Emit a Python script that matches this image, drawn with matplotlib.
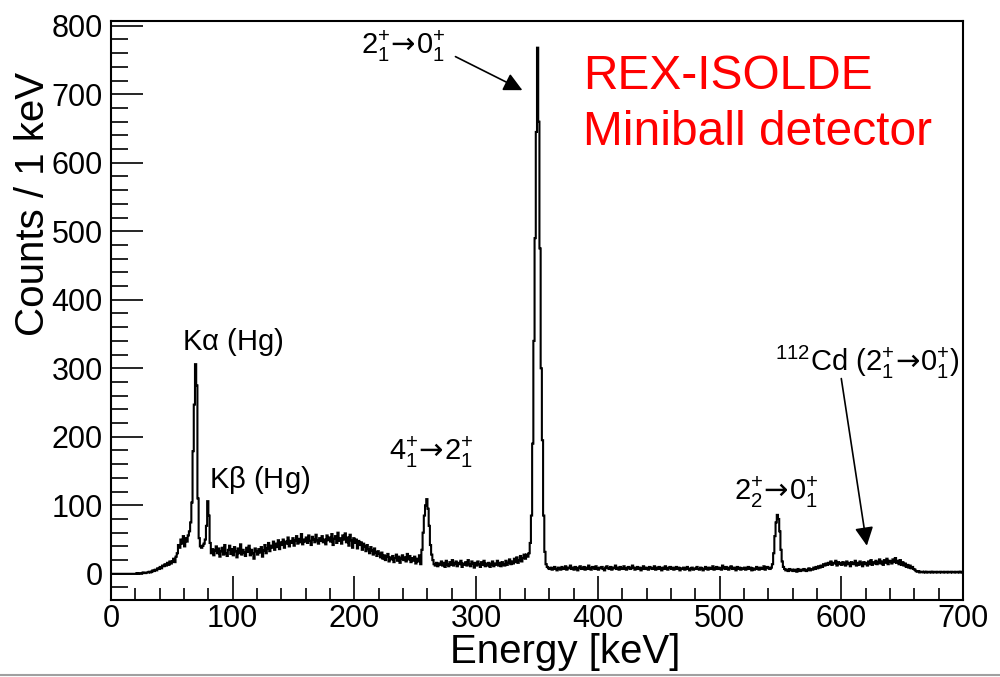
import numpy as np
import matplotlib
matplotlib.use("Agg")
import matplotlib.pyplot as plt
from matplotlib.lines import Line2D
from matplotlib.ticker import MultipleLocator

plt.rcParams['font.family'] = ['Liberation Sans', 'DejaVu Sans']
plt.rcParams['mathtext.fontset'] = 'custom'
plt.rcParams['mathtext.rm'] = 'Liberation Sans'
plt.rcParams['mathtext.it'] = 'Liberation Sans:italic'
plt.rcParams['mathtext.bf'] = 'Liberation Sans:bold'
plt.rcParams['mathtext.sf'] = 'DejaVu Sans'   # only used for the arrow glyph
plt.rcParams['mathtext.default'] = 'rm'
plt.rcParams['mathtext.fallback'] = 'stixsans'

# gamma spectrum, 1 keV bins from 0 to 700 keV
bin_edges = np.arange(0, 701, 1)
counts = [
    0, 0, 0, 0, 0, 0, 0, 0, 0, 0,
    0, 0, 0, 0, 0, 0, 0, 0, 0, 0,
    0, 1, 0, 1, 1, 1, 2, 1, 1, 2,
    2, 3, 2, 3, 5, 4, 6, 5, 8, 7,
    10, 8, 12, 11, 14, 12, 16, 13, 18, 15,
    18, 22, 17, 25, 30, 42, 38, 50, 44, 55,
    40, 52, 47, 56, 62, 75, 104, 179, 247, 306,
    275, 110, 52, 40, 38, 41, 44, 50, 70, 106,
    85, 45, 30, 36, 27, 34, 40, 30, 37, 25,
    33, 38, 28, 42, 30, 26, 35, 41, 29, 36,
    27, 39, 33, 24, 37, 30, 43, 28, 35, 31,
    26, 38, 32, 41, 27, 35, 30, 22, 37, 33,
    28, 36, 31, 39, 25, 34, 42, 30, 37, 45,
    33, 41, 38, 47, 35, 44, 39, 49, 36, 46,
    42, 50, 38, 47, 44, 53, 40, 48, 45, 52,
    41, 49, 55, 44, 51, 46, 58, 43, 50, 47,
    53, 45, 56, 48, 42, 54, 50, 46, 57, 49,
    44, 52, 48, 55, 46, 50, 43, 56, 49, 53,
    47, 58, 42, 51, 55, 45, 60, 48, 52, 44,
    56, 50, 59, 46, 53, 41, 57, 49, 38, 52,
    45, 50, 37, 48, 42, 46, 35, 44, 40, 33,
    42, 36, 30, 39, 34, 28, 37, 31, 26, 33,
    29, 24, 31, 22, 27, 20, 25, 29, 18, 24,
    21, 26, 17, 23, 28, 19, 25, 16, 22, 27,
    20, 24, 18, 29, 21, 26, 17, 23, 19, 25,
    15, 22, 18, 27, 14, 35, 60, 85, 100, 109,
    95, 70, 42, 28, 20, 14, 12, 16, 11, 15,
    13, 18, 12, 16, 10, 19, 14, 11, 17, 13,
    20, 12, 15, 18, 11, 16, 14, 19, 10, 15,
    13, 17, 12, 20, 14, 11, 18, 15, 9, 16,
    12, 18, 14, 10, 17, 13, 19, 11, 15, 12,
    16, 10, 14, 18, 11, 15, 13, 19, 12, 16,
    11, 17, 14, 12, 19, 13, 16, 21, 14, 18,
    15, 22, 17, 24, 16, 20, 26, 18, 23, 28,
    22, 28, 25, 30, 45, 85, 190, 340, 490, 645,
    768, 660, 475, 300, 195, 85, 32, 14, 10, 8,
    7, 9, 6, 8, 10, 7, 5, 9, 8, 6,
    10, 8, 7, 11, 6, 9, 8, 12, 7, 9,
    6, 10, 8, 5, 9, 11, 7, 8, 10, 6,
    9, 7, 12, 8, 6, 10, 9, 7, 11, 8,
    6, 9, 8, 10, 7, 5, 9, 11, 8, 7,
    10, 6, 9, 8, 12, 7, 9, 6, 10, 8,
    7, 11, 8, 6, 9, 10, 7, 8, 12, 9,
    6, 8, 10, 7, 9, 5, 8, 11, 7, 9,
    8, 6, 10, 9, 7, 8, 11, 6, 9, 7,
    10, 8, 5, 9, 7, 11, 8, 6, 9, 10,
    7, 9, 6, 8, 10, 7, 9, 5, 8, 7,
    9, 6, 8, 10, 7, 5, 8, 9, 6, 7,
    8, 10, 7, 6, 9, 8, 5, 7, 10, 8,
    6, 9, 7, 8, 11, 6, 8, 10, 7, 9,
    8, 6, 12, 9, 7, 10, 8, 6, 9, 11,
    7, 9, 8, 5, 10, 7, 9, 6, 8, 7,
    9, 6, 8, 10, 7, 9, 5, 8, 6, 7,
    10, 8, 6, 9, 7, 8, 11, 6, 9, 10,
    8, 7, 9, 14, 30, 55, 75, 86, 80, 62,
    35, 18, 10, 7, 5, 6, 4, 7, 5, 6,
    4, 6, 5, 3, 7, 5, 4, 6, 5, 7,
    5, 4, 6, 8, 5, 7, 6, 9, 7, 10,
    8, 11, 9, 12, 10, 14, 12, 15, 13, 16,
    14, 18, 13, 16, 15, 19, 12, 17, 14, 16,
    13, 17, 15, 12, 18, 14, 16, 11, 17, 15,
    14, 19, 12, 16, 13, 18, 15, 11, 17, 14,
    16, 12, 18, 14, 20, 13, 17, 15, 19, 14,
    17, 21, 15, 18, 13, 20, 16, 22, 14, 19,
    18, 15, 21, 17, 23, 16, 19, 14, 20, 13,
    17, 12, 15, 10, 13, 9, 12, 8, 10, 7,
    6, 4, 3, 4, 2, 3, 3, 2, 3, 2,
    3, 2, 2, 3, 2, 3, 2, 2, 3, 2,
    2, 3, 2, 2, 3, 2, 2, 3, 2, 2,
    3, 2, 2, 3, 2, 2, 3, 2, 3, 2,
]

ARROW = r'\!\mathsf{\rightarrow}\!'

# labelled lines: text, anchor (keV, counts), horizontal alignment
labels = [
    (r'$2^{+}_{1}' + ARROW + r'0^{+}_{1}$', (240, 759), 'center'),
    (r'K$\alpha$ (Hg)', (100, 327), 'center'),
    (r'K$\beta$ (Hg)', (80.5, 125), 'left'),
    (r'$4^{+}_{1}' + ARROW + r'2^{+}_{1}$', (263, 166), 'center'),
    (r'$2^{+}_{2}' + ARROW + r'0^{+}_{1}$', (547, 108), 'center'),
    (r'$^{112}$Cd $(2^{+}_{1}' + ARROW + r'0^{+}_{1})$', (621, 296), 'center'),
]
# arrows: (tail, head)
arrows = [
    ((283, 755), (338, 706)),
    ((600, 285), (621, 41)),
]

fig = plt.figure(figsize=(10, 6.77), dpi=100)
ax = fig.add_axes([0.111, 0.114, 0.852, 0.855])

ax.stairs(counts, bin_edges, color='black', lw=1.5, baseline=None)

ax.set_xlim(0, 700)
ax.set_ylim(-38, 807)
ax.xaxis.set_major_locator(MultipleLocator(100))
ax.xaxis.set_minor_locator(MultipleLocator(20))
ax.yaxis.set_minor_locator(MultipleLocator(20))
ax.set_yticks(range(0, 801, 100))
ax.tick_params(axis='both', which='both', direction='in', width=1.2,
               labelsize=22, top=False, right=False)
ax.tick_params(axis='y', which='major', length=23, pad=6)
ax.tick_params(axis='y', which='minor', length=12)
ax.tick_params(axis='x', which='major', length=17, pad=3)
ax.tick_params(axis='x', which='minor', length=9)
for s in ax.spines.values():
    s.set_linewidth(1.5)

ax.set_xlabel('Energy [keV]', fontsize=29, loc='right')
ax.xaxis.set_label_coords(0.668, -0.058)
ax.set_ylabel('Counts / 1 keV', fontsize=29, loc='top')
ax.yaxis.set_label_coords(-0.069, 0.912)

for text, pos, ha in labels:
    ax.text(pos[0], pos[1], text, fontsize=21, ha=ha, va='baseline')

for tail, head in arrows:
    ax.annotate('', xy=head, xytext=tail,
                arrowprops=dict(arrowstyle='-|>', color='black', lw=1.2,
                                mutation_scale=28, shrinkA=0, shrinkB=0))

ax.text(388, 707, 'REX-ISOLDE', color='red', fontsize=34.5, va='baseline')
ax.text(388, 626, 'Miniball detector', color='red', fontsize=34.5, va='baseline')

# grey border line at the bottom of the screenshot
fig.add_artist(Line2D([0, 1], [0.003, 0.003], color='#a0a0a0', lw=1.5,
                      transform=fig.transFigure))

fig.savefig('out.png', dpi=100)
